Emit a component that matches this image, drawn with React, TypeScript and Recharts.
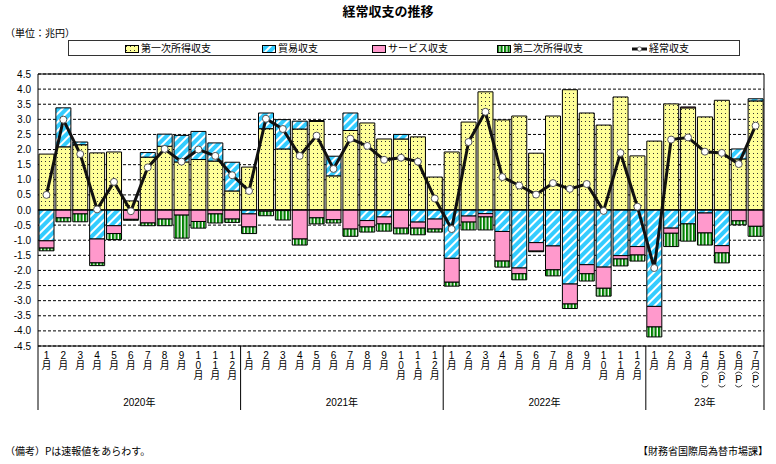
import React from "react";
import {
  ComposedChart,
  Bar,
  Line,
  XAxis,
  YAxis,
  CartesianGrid,
  ReferenceLine,
  ReferenceArea,
} from "recharts";

// categories (year-month), 2020/1 .. 2023/7
const periods = [
  "2020-1", "2020-2", "2020-3", "2020-4", "2020-5", "2020-6", "2020-7", "2020-8", "2020-9", "2020-10", "2020-11", "2020-12",
  "2021-1", "2021-2", "2021-3", "2021-4", "2021-5", "2021-6", "2021-7", "2021-8", "2021-9", "2021-10", "2021-11", "2021-12",
  "2022-1", "2022-2", "2022-3", "2022-4", "2022-5", "2022-6", "2022-7", "2022-8", "2022-9", "2022-10", "2022-11", "2022-12",
  "2023-1", "2023-2", "2023-3", "2023-4", "2023-5", "2023-6", "2023-7",
];
const provisional = ["2023-4", "2023-5", "2023-6", "2023-7"];
const yearLabels = ["2020年", "2021年", "2022年", "23年"];
const yTicks = [4.5, 4, 3.5, 3, 2.5, 2, 1.5, 1, 0.5, 0, -0.5, -1, -1.5, -2, -2.5, -3, -3.5, -4, -4.5];

// 兆円
const primaryIncome = [
  1.85, 2.09, 2.16, 1.89, 1.92, 0.3, 1.75, 2.11, 1.59, 1.67, 1.62, 0.63,
  1.42, 2.69, 2.02, 2.68, 2.93, 1.13, 2.63, 2.88, 2.35, 2.35, 2.42, 1.09,
  1.92, 2.91, 3.91, 2.98, 3.11, 1.88, 3.11, 3.98, 3.21, 2.81, 3.74, 1.79,
  2.28, 3.51, 3.38, 3.08, 3.63, 1.69, 3.61,
];
const tradeBalance = [
  -1.02, 1.29, 0.09, -0.96, -0.52, -0.01, 0.15, 0.4, 0.88, 0.93, 0.6, 0.95,
  -0.13, 0.52, 0.97, 0.26, 0.03, 0.65, 0.58, -0.35, -0.23, 0.15, -0.4, -0.3,
  -1.6, -0.2, -0.12, -0.71, -1.92, -1.08, -1.19, -2.45, -1.81, -1.89, -1.51, -1.21,
  -3.19, -0.6, -0.46, -0.1, -1.18, 0.33, 0.07,
];
const services = [
  -0.24, -0.26, -0.13, -0.79, -0.26, -0.3, -0.43, -0.3, -0.17, -0.38, -0.13, -0.3,
  -0.43, -0.04, -0.02, -0.96, -0.26, -0.32, -0.63, -0.21, -0.23, -0.6, -0.2, -0.33,
  -0.79, -0.2, -0.11, -0.98, -0.19, -0.28, -0.79, -0.66, -0.3, -0.7, -0.11, -0.28,
  -0.68, -0.17, 0.03, -0.66, -0.24, -0.36, -0.54,
];
const secondaryIncome = [
  -0.09, -0.13, -0.26, -0.09, -0.2, -0.03, -0.09, -0.22, -0.76, -0.22, -0.3, -0.11,
  -0.22, -0.15, -0.31, -0.2, -0.2, -0.11, -0.24, -0.17, -0.24, -0.19, -0.22, -0.1,
  -0.13, -0.26, -0.43, -0.2, -0.2, -0.02, -0.2, -0.15, -0.24, -0.26, -0.23, -0.2,
  -0.33, -0.44, -0.57, -0.4, -0.33, -0.13, -0.33,
];
const currentAccount = [
  0.5, 2.99, 1.85, 0.02, 0.93, -0.04, 1.41, 2.02, 1.6, 2.0, 1.79, 1.15,
  0.63, 3.02, 2.68, 1.79, 2.46, 1.36, 2.36, 2.12, 1.66, 1.73, 1.6, 0.38,
  -0.63, 2.25, 3.25, 1.09, 0.81, 0.51, 0.89, 0.7, 0.86, -0.03, 1.89, 0.11,
  -1.92, 2.33, 2.4, 1.93, 1.89, 1.52, 2.79,
];

const data = periods.map((p, i) => ({
  period: p,
  primary: primaryIncome[i],
  trade: tradeBalance[i],
  services: services[i],
  secondary: secondaryIncome[i],
  current: currentAccount[i],
}));

const W = 776;
const H = 464;
const margin = { top: 74, right: 12, bottom: 48, left: 8 };
const yAxisWidth = 30;
const band = (W - margin.left - margin.right - yAxisWidth) / periods.length;
const FONT = "'Liberation Sans', 'Noto Sans CJK JP', sans-serif";
const JP = "'Noto Sans CJK JP', sans-serif";

function MonthTick(props: any) {
  const { x, y, payload } = props;
  const [yr, mo] = String(payload.value).split("-");
  const i = periods.indexOf(payload.value);
  const chars = mo.split("").concat("月");
  const isP = provisional.includes(payload.value);
  const first = i === 0 || periods[i - 1].split("-")[0] !== yr;
  const last = i === periods.length - 1;
  const count = periods.filter((p) => p.startsWith(yr + "-")).length;
  const yearIdx = ["2020", "2021", "2022", "2023"].indexOf(yr);
  return (
    <g>
      {chars.map((c, k) => (
        <text key={k} x={x} y={y + 13 + k * 10} textAnchor="middle" fontSize={10} fontFamily={FONT} fill="#000">
          {c}
        </text>
      ))}
      {isP && (
        <g>
          <path d={`M${x - 3.5},${y + 28} Q${x},${y + 24} ${x + 3.5},${y + 28}`} fill="none" stroke="#000" strokeWidth={0.8} />
          <text x={x} y={y + 37} textAnchor="middle" fontSize={10} fontFamily={FONT} fill="#000">P</text>
          <path d={`M${x - 3.5},${y + 39} Q${x},${y + 43} ${x + 3.5},${y + 39}`} fill="none" stroke="#000" strokeWidth={0.8} />
        </g>
      )}
      {first && <line x1={x - band / 2} x2={x - band / 2} y1={y} y2={y + 64} stroke="#000" strokeWidth={1} />}
      {last && <line x1={x + band / 2} x2={x + band / 2} y1={y} y2={y + 64} stroke="#000" strokeWidth={1} />}
      {first && (
        <text x={x + ((count - 1) * band) / 2} y={y + 60} textAnchor="middle" fontSize={10} fontFamily={FONT} fill="#000">
          {yearLabels[yearIdx]}
        </text>
      )}
    </g>
  );
}

function Swatch({ fill }: { fill: string }) {
  return (
    <svg width={14} height={8} style={{ verticalAlign: "middle" }}>
      <rect x={0.5} y={0.5} width={13} height={7} fill={fill} stroke="#000" strokeWidth={1} />
    </svg>
  );
}

const legendItems = [
  { label: "第一次所得収支", fill: "url(#dots)", left: 124 },
  { label: "貿易収支", fill: "url(#hatch)", left: 261 },
  { label: "サービス収支", fill: "#FF99CC", left: 371 },
  { label: "第二次所得収支", fill: "url(#vstripe)", left: 496 },
];

export default function App() {
  return (
    <div style={{ position: "absolute", left: 0, top: 0, width: W, height: H, background: "#fff", fontFamily: JP }}>
      <svg width={0} height={0} style={{ position: "absolute" }}>
        <defs>
          <pattern id="dots" width={4} height={4} patternUnits="userSpaceOnUse">
            <rect width={4} height={4} fill="#FFFF99" />
            <rect x={1} y={1} width={1} height={1} fill="#333" />
          </pattern>
          <pattern id="hatch" width={6} height={6} patternUnits="userSpaceOnUse" patternTransform="rotate(45)">
            <rect width={6} height={6} fill="#33CCFF" />
            <rect width={2} height={6} fill="#fff" />
          </pattern>
          <pattern id="vstripe" width={3.5} height={4} patternUnits="userSpaceOnUse">
            <rect width={3.5} height={4} fill="#fff" />
            <rect width={2.2} height={4} fill="#008000" />
          </pattern>
        </defs>
      </svg>

      <div style={{ position: "absolute", left: 0, width: W, top: 1, textAlign: "center", fontSize: 13, fontWeight: "bold" }}>
        経常収支の推移
      </div>
      <div style={{ position: "absolute", left: 5, top: 25, fontSize: 10 }}>（単位：兆円）</div>

      <div style={{ position: "absolute", left: 68, top: 40, width: 672, height: 16, border: "1px solid #333", boxSizing: "border-box", fontSize: 10 }}>
        {legendItems.map((it) => (
          <div key={it.label} style={{ position: "absolute", left: it.left - 68, top: 0, lineHeight: "14px", whiteSpace: "nowrap" }}>
            <Swatch fill={it.fill} />
            <span style={{ marginLeft: 2 }}>{it.label}</span>
          </div>
        ))}
        <div style={{ position: "absolute", left: 631 - 68, top: 0, lineHeight: "14px", whiteSpace: "nowrap" }}>
          <svg width={15} height={8} style={{ verticalAlign: "middle" }}>
            <line x1={0} x2={15} y1={4} y2={4} stroke="#111" strokeWidth={3} />
            <circle cx={7.5} cy={4} r={2.2} fill="#fff" stroke="#555" strokeWidth={0.8} />
          </svg>
          <span style={{ marginLeft: 2 }}>経常収支</span>
        </div>
      </div>

      <div style={{ position: "absolute", left: 0, top: 0 }}>
        <ComposedChart width={W} height={H} data={data} margin={margin} stackOffset="sign" barSize={15}>
          <CartesianGrid horizontal vertical={false} stroke="#000" strokeDasharray="3 2" strokeWidth={1} />
          <XAxis
            dataKey="period"
            interval={0}
            tickLine={false}
            axisLine={false}
            tickSize={0}
            tickMargin={0}
            height={70}
            tick={<MonthTick />}
          />
          <YAxis
            domain={[-4.5, 4.5]}
            ticks={yTicks}
            interval={0}
            width={yAxisWidth}
            tickLine={false}
            axisLine={false}
            tickSize={0}
            tickMargin={7}
            tick={{ fontSize: 10, fill: "#000", fontFamily: FONT }}
            tickFormatter={(v: number) => v.toFixed(1)}
          />
          <ReferenceArea y1={-4.5} y2={4.5} fill="none" stroke="#000" strokeWidth={1} ifOverflow="visible" />
          <Bar dataKey="primary" stackId="a" fill="url(#dots)" stroke="#000" strokeWidth={1} isAnimationActive={false} />
          <Bar dataKey="trade" stackId="a" fill="url(#hatch)" stroke="#000" strokeWidth={1} isAnimationActive={false} />
          <Bar dataKey="services" stackId="a" fill="#FF99CC" stroke="#000" strokeWidth={1} isAnimationActive={false} />
          <Bar dataKey="secondary" stackId="a" fill="url(#vstripe)" stroke="#000" strokeWidth={1} isAnimationActive={false} />
          <ReferenceLine y={0} stroke="#000" strokeWidth={1} />
          <Line
            dataKey="current"
            type="linear"
            stroke="#111"
            strokeWidth={3}
            dot={{ r: 3.5, fill: "#fff", stroke: "#555", strokeWidth: 1 }}
            isAnimationActive={false}
          />
        </ComposedChart>
      </div>

      <div style={{ position: "absolute", left: 5, top: 443, fontSize: 10 }}>（備考）Pは速報値をあらわす。</div>
      <div style={{ position: "absolute", right: 8, top: 443, fontSize: 10 }}>【財務省国際局為替市場課】</div>
    </div>
  );
}
